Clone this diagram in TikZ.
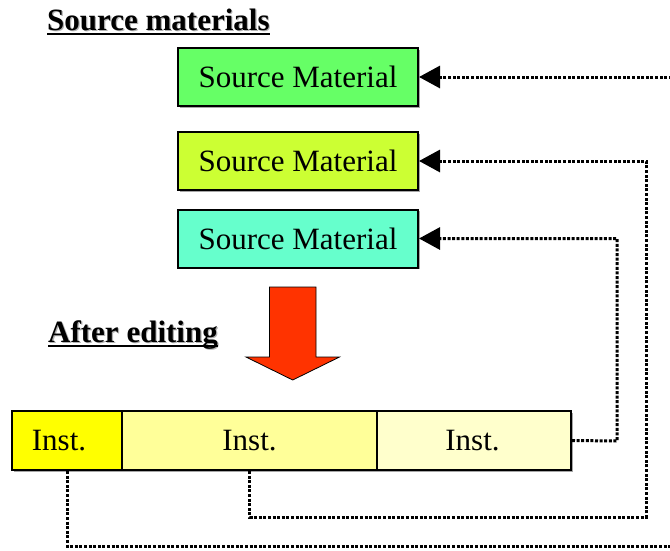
\documentclass[tikz,border=0pt]{standalone}
\usepackage{fontspec}
\setmainfont{Liberation Serif}
\usetikzlibrary{arrows.meta,shadows,calc}

\definecolor{smgreen}{HTML}{66FF66}
\definecolor{smlime}{HTML}{CCFF33}
\definecolor{smaqua}{HTML}{66FFCC}
\definecolor{instA}{HTML}{FFFF00}
\definecolor{instB}{HTML}{FFFF99}
\definecolor{instC}{HTML}{FFFFCC}
\definecolor{bigred}{HTML}{FF3300}

\tikzset{
  box/.style={draw=black, line width=2pt, inner sep=0pt,
    font=\fontsize{31}{37}\selectfont,
    drop shadow={shadow xshift=1.5pt, shadow yshift=-1.5pt, fill=black!35, opacity=1}},
  srcbox/.style={box, minimum width=240pt, minimum height=58pt},
  instbox/.style={box, minimum height=59pt},
  heading/.style={inner sep=0pt, font=\bfseries\fontsize{31}{37}\selectfont},
  link/.style={line width=3pt, dash pattern=on 3pt off 1.6pt,
    -{Triangle[length=21pt,width=22pt]}},
}

\begin{document}
\begin{tikzpicture}[x=1pt,y=-1pt]
\useasboundingbox (0,0) rectangle (670,550);
\clip (0,0) rectangle (670,550);

% headings with their soft shadow and underline
\node[heading, text=black!30, anchor=base west] at (48.2,31.2) {Source materials};
\node[heading, anchor=base west] (h1) at (47,30) {Source materials};
\draw[line width=2pt] ([yshift=-3.5pt]h1.base west) -- ([yshift=-3.5pt]h1.base east);

\node[heading, text=black!30, anchor=base west] at (49.2,343.2) {After editing};
\node[heading, anchor=base west] (h2) at (48,342) {After editing};
\draw[line width=2pt] ([yshift=-3.5pt]h2.base west) -- ([yshift=-3.5pt]h2.base east);

% source material boxes
\node[srcbox, fill=smgreen] (sm1) at (298,77) {Source Material};
\node[srcbox, fill=smlime]  (sm2) at (298,161) {Source Material};
\node[srcbox, fill=smaqua]  (sm3) at (298,238.5) {Source Material};

% editing arrow
\draw[line width=0.8pt, fill=bigred]
  (269.5,287) -- (316,287) -- (316,357) -- (339.5,357) -- (292.7,380)
  -- (246,357) -- (269.5,357) -- cycle;

% edited instance strip
\node[instbox, fill=instA, minimum width=110pt] (i1) at (67,440.5) {Inst.\hspace*{16pt}};
\node[instbox, fill=instB, minimum width=255pt] (i2) at (249.5,440.5) {Inst.};
\node[instbox, fill=instC, minimum width=194pt] (i3) at (474,440.5) {Inst.\hspace*{3pt}};

% links back to the sources
\coordinate (r3) at (617,441);
\coordinate (r2) at (646,517);
\coordinate (r1) at (700,546);

\draw[link] (i3.east) -- (r3) |- (sm3.east);
\draw[link] (i2.south) |- (r2) |- (sm2.east);
\draw[link] (i1.south) |- (r1) |- (sm1.east);
\end{tikzpicture}
\end{document}
